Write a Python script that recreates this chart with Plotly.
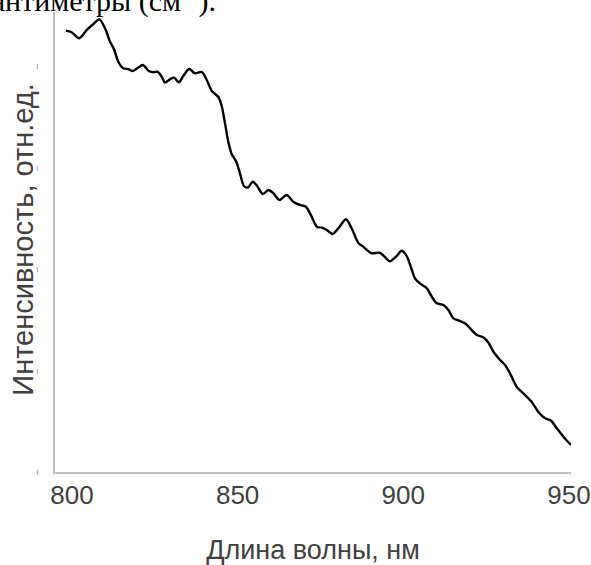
import plotly.graph_objects as go

# Wavelength (nm) and relative intensity
wavelength = [798.2, 799.9, 802.2, 804.5, 806.5, 808.3, 810.0, 811.5, 812.7, 814.0,
              815.5, 817.0, 818.3, 819.7, 821.4, 823.1, 824.6, 825.8, 827.1, 828.1,
              829.6, 830.8, 832.3, 833.6, 835.4, 837.1, 839.2, 840.7, 842.2, 844.2,
              845.2, 846.2, 847.2, 848.2, 849.6, 850.9, 851.9, 853.1, 854.6, 855.9,
              857.6, 859.3, 860.8, 862.6, 864.8, 866.8, 868.8, 870.6, 872.1, 873.9,
              875.4, 876.9, 878.7, 880.4, 882.7, 884.4, 886.4, 887.9, 890.5, 892.8,
              894.3, 895.9, 897.9, 899.5, 901.0, 902.5, 903.5, 905.0, 907.1, 908.6,
              910.1, 912.1, 913.6, 915.1, 917.1, 918.9, 920.6, 922.2, 924.1, 925.7,
              927.2, 929.2, 930.7, 932.2, 934.2, 936.2, 938.7, 940.7, 942.8, 944.6,
              946.3, 948.3, 950.1, 950.6]
intensity = [4.348, 4.332, 4.273, 4.355, 4.414, 4.460, 4.371, 4.239, 4.165, 4.042,
             3.977, 3.970, 3.951, 3.977, 4.010, 3.954, 3.938, 3.944, 3.895, 3.836,
             3.869, 3.885, 3.839, 3.901, 3.970, 3.928, 3.941, 3.862, 3.754, 3.695,
             3.606, 3.435, 3.251, 3.133, 3.057, 2.921, 2.818, 2.803, 2.860, 2.818,
             2.739, 2.778, 2.746, 2.680, 2.729, 2.663, 2.631, 2.614, 2.532, 2.417,
             2.407, 2.384, 2.345, 2.401, 2.490, 2.401, 2.259, 2.220, 2.155, 2.161,
             2.123, 2.076, 2.125, 2.180, 2.130, 2.000, 1.908, 1.859, 1.810, 1.727,
             1.662, 1.645, 1.596, 1.514, 1.488, 1.458, 1.399, 1.350, 1.327, 1.274,
             1.185, 1.103, 1.054, 0.972, 0.840, 0.775, 0.693, 0.594, 0.529, 0.505,
             0.431, 0.348, 0.283, 0.266]

x_ticks = [800, 850, 900, 950]
x_tick_labels = ["800", "850", "900", "950"]
y_ticks = [0, 1, 2, 3, 4]
y_tick_labels = ["|", "|", "|", "|", "|"]

x_title = "Длина волны, нм"
y_title = "Интенсивность, отн.ед."
top_text = "сантиметры (см<sup>-1</sup>)."

fig = go.Figure()
fig.add_trace(go.Scatter(
    x=wavelength, y=intensity, mode="lines",
    line=dict(color="black", width=2.4, shape="spline", smoothing=0.8),
    showlegend=False, hoverinfo="skip",
))

axis_gray = "#BFBFBF"
text_gray = "#404040"

fig.update_layout(
    width=591, height=565,
    margin=dict(l=55, r=20, t=12, b=93, autoexpand=False),
    paper_bgcolor="white", plot_bgcolor="white",
    font=dict(family="Liberation Sans, Arial", color=text_gray, size=26),
    xaxis=dict(
        range=[794.9, 950.6], showgrid=False, zeroline=False,
        showline=True, linecolor=axis_gray, linewidth=1.5,
        tickmode="array", tickvals=x_ticks, ticktext=x_tick_labels,
        ticks="", ticklabelstandoff=-1,
        tickfont=dict(size=26, color=text_gray),
        title=dict(text=x_title, font=dict(size=27, color=text_gray), standoff=47),
        automargin=False,
    ),
    yaxis=dict(
        range=[0, 4.532], showgrid=False, zeroline=False,
        showline=True, linecolor=axis_gray, linewidth=1.5,
        tickmode="array", tickvals=y_ticks, ticktext=y_tick_labels,
        ticks="", ticklabelstandoff=14,
        tickfont=dict(size=6, color="#444444"),
        automargin=False,
    ),
)

# Y-axis title placed as a rotated annotation for exact horizontal position
fig.add_annotation(
    text=y_title, xref="paper", yref="paper", x=-0.062, y=0.505,
    xanchor="center", yanchor="middle", textangle=-90, showarrow=False,
    font=dict(family="Liberation Sans, Arial", size=29, color=text_gray),
)

fig.add_annotation(
    text=top_text, xref="paper", yref="paper", x=(218 - 55) / 515.5, y=1.0,
    xanchor="right", yanchor="bottom", yshift=-8, showarrow=False,
    font=dict(family="Liberation Serif, Times New Roman", size=30, color="black"),
)

fig.write_html(
    "out.html",
    config={"displayModeBar": False},
    post_script="document.body.style.margin='0';document.body.style.padding='0';",
)
